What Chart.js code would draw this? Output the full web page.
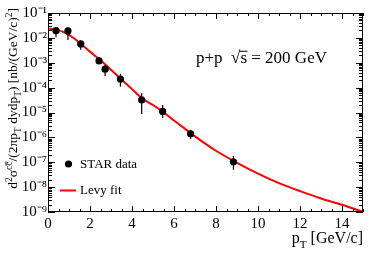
<!DOCTYPE html>
<html><head><meta charset="utf-8">
<script src="https://cdn.jsdelivr.net/npm/chart.js@4/dist/chart.umd.min.js"></script>
<style>html,body{margin:0;padding:0;background:#fff;}#wrap{width:374px;height:253px;}</style>
</head><body><div id="wrap"><canvas id="c" width="374" height="253"></canvas></div>
<script>
// ---- data ----
const ptValues   = [0.38, 0.95, 1.56, 2.43, 2.72, 3.45, 4.46, 5.46, 6.79, 8.83];
const starValues = [0.0195, 0.0190, 5.7e-3, 1.18e-3, 5.5e-4, 2.2e-4, 3.2e-5, 1.1e-5, 1.4e-6, 1.04e-7];
const starLow    = [0.0106, 0.0082, 3.3e-3, 8.9e-4, 2.95e-4, 1.1e-4, 8.7e-6, 6.0e-6, 8.7e-7, 5.0e-8];
const starHigh   = [0.0267, 0.0260, 7.7e-3, 1.7e-3, 8.1e-4, 3.55e-4, 6.0e-5, 2.0e-5, 2.0e-6, 1.8e-7];
const fitPt      = [0, 0.25, 0.5, 0.75, 1.0, 1.25, 1.5, 1.75, 2.0, 2.5, 3.0, 3.5, 4.0, 4.5, 5.0, 5.5, 6.0, 6.5, 7.0, 8.0, 9.0, 10.0, 11.0, 12.0, 13.0, 14.0, 15.0];
const fitValues  = [0.0240, 0.0222, 0.0200, 0.0170, 0.0132, 9.4e-3, 6.4e-3, 4.2e-3, 2.8e-3, 1.25e-3, 5.2e-4, 2.1e-4, 8.7e-5, 3.6e-5, 2.0e-5, 1.02e-5, 4.8e-6, 2.3e-6, 1.1e-6, 2.9e-7, 9.5e-8, 3.5e-8, 1.45e-8, 6.9e-9, 3.5e-9, 1.95e-9, 1.0e-9];
const xTickValues = [0, 2, 4, 6, 8, 10, 12, 14];
const yTickExponents = [-9, -8, -7, -6, -5, -4, -3, -2, -1];
const seriesNames = ['STAR data', 'Levy fit'];

const FONT = '"Liberation Serif", "Times New Roman", serif';
const SUP = {'-':'⁻','0':'⁰','1':'¹','2':'²','3':'³','4':'⁴','5':'⁵','6':'⁶','7':'⁷','8':'⁸','9':'⁹'};
function supStr(n){ return String(n).split('').map(c=>SUP[c]).join(''); }

function drawRich(ctx, segs, x, y, size){
  for (const s of segs){
    const sc = s.s || 1, dy = s.dy || 0;
    ctx.font = (size*sc) + 'px ' + FONT;
    ctx.fillText(s.t, x, y + dy*size);
    const w = ctx.measureText(s.t).width;
    if (s.bar){ ctx.save(); ctx.lineWidth=1; ctx.beginPath();
      const cw = ctx.measureText('c').width;
      ctx.moveTo(x + w - cw, y + dy*size - size*sc*0.62); ctx.lineTo(x + w, y + dy*size - size*sc*0.62); ctx.stroke(); ctx.restore(); }
    x += w;
  }
  return x;
}
function richWidth(ctx, segs, size){
  let w = 0;
  for (const s of segs){ ctx.font = (size*(s.s||1)) + 'px ' + FONT; w += ctx.measureText(s.t).width; }
  return w;
}

const errorBars = {
  id: 'errorBars',
  afterDatasetsDraw(chart){
    const {ctx, scales:{x, y}} = chart;
    ctx.save(); ctx.strokeStyle = '#000'; ctx.lineWidth = 1.2;
    ptValues.forEach((p,i)=>{
      const px = x.getPixelForValue(p);
      ctx.beginPath(); ctx.moveTo(px, y.getPixelForValue(starLow[i])); ctx.lineTo(px, y.getPixelForValue(starHigh[i])); ctx.stroke();
    });
    ctx.restore();
  }
};

const frameTicks = {
  id: 'frameTicks',
  afterDraw(chart){
    const {ctx, chartArea:a, scales:{x, y}} = chart;
    ctx.save(); ctx.strokeStyle = '#000'; ctx.lineWidth = 1;
    ctx.strokeRect(a.left+0.5, a.top+0.5, a.right-a.left-1, a.bottom-a.top-1);
    ctx.beginPath();
    for (let v=0; v<=15.001; v+=0.5){
      const px = Math.round(x.getPixelForValue(v))+0.5;
      const L = (Math.abs(v/2 - Math.round(v/2))<1e-6) ? 6 : 3;
      ctx.moveTo(px, a.bottom); ctx.lineTo(px, a.bottom-L);
      ctx.moveTo(px, a.top); ctx.lineTo(px, a.top+L);
    }
    for (let e=-9; e<=-1; e++){
      for (let m=1; m<=9; m++){
        const v = m*Math.pow(10,e);
        if (v>0.1000001) break;
        const py = Math.round(y.getPixelForValue(v))+0.5;
        const L = m===1 ? 7 : 4;
        ctx.moveTo(a.left, py); ctx.lineTo(a.left+L, py);
        ctx.moveTo(a.right, py); ctx.lineTo(a.right-L, py);
      }
    }
    ctx.stroke();
    ctx.restore();

    // texts
    ctx.save(); ctx.fillStyle = '#000'; ctx.strokeStyle='#000'; ctx.textBaseline = 'alphabetic';
    // x title
    const xt = [{t:'p'},{t:'T',s:0.7,dy:0.3},{t:' [GeV/c]'}];
    const xs = 16;
    drawRich(ctx, xt, a.right - richWidth(ctx, xt, xs), 243, xs);
    // y title
    const yt = [{t:'d'},{t:'2',s:0.7,dy:-0.38},{t:'σ'},{t:'cc',s:0.7,dy:-0.38,bar:true},{t:'/(2πp'},{t:'T',s:0.7,dy:0.3},{t:' dydp'},{t:'T',s:0.7,dy:0.3},{t:') [nb/(GeV/c)'},{t:'2',s:0.7,dy:-0.38},{t:']'}];
    const ys = 13.5;
    const yw = richWidth(ctx, yt, ys);
    ctx.save(); ctx.translate(17, a.top - 5); ctx.rotate(-Math.PI/2);
    drawRich(ctx, yt, -yw, 0, ys);
    ctx.restore();
    // annotation
    const an = 17;
    ctx.font = an + 'px ' + FONT;
    let ax = 196, ay = 63;
    ctx.fillText('p+p  ', ax, ay); ax += ctx.measureText('p+p  ').width;
    ctx.fillText('√', ax, ay); const rw = ctx.measureText('√').width; ax += rw;
    const sw = ctx.measureText('s').width;
    ctx.fillText('s', ax, ay);
    ctx.lineWidth = 1; ctx.beginPath(); ctx.moveTo(ax-1, ay - an*0.72+0.5); ctx.lineTo(ax+sw+0.5, ay - an*0.72+0.5); ctx.stroke();
    ax += sw;
    ctx.fillText(' = 200 GeV', ax, ay);
    // legend
    ctx.font = '13px ' + FONT; ctx.textBaseline = 'middle';
    ctx.beginPath(); ctx.arc(68.5, 164, 3.6, 0, Math.PI*2); ctx.fill();
    ctx.fillText(seriesNames[0], 80, 164.5);
    ctx.strokeStyle = '#ff0000'; ctx.lineWidth = 2; ctx.beginPath(); ctx.moveTo(60, 190.5); ctx.lineTo(76, 190.5); ctx.stroke();
    ctx.fillText(seriesNames[1], 80, 190.5);
    ctx.restore();
  }
};

new Chart(document.getElementById('c'), {
  type: 'scatter',
  data: {
    datasets: [
      { label: seriesNames[1], type: 'line', data: fitPt.map((p,i)=>({x:p, y:fitValues[i]})),
        borderColor: '#ff0000', borderWidth: 2, pointRadius: 0, fill: false, cubicInterpolationMode: 'monotone', order: 2 },
      { label: seriesNames[0], data: ptValues.map((p,i)=>({x:p, y:starValues[i]})),
        pointRadius: 3.6, pointBackgroundColor: '#000', pointBorderColor: '#000', pointBorderWidth: 0, order: 1 }
    ]
  },
  options: {
    responsive: false, animation: false, devicePixelRatio: 1,
    layout: { padding: { top: 13, right: 11, left: 0, bottom: 0 } },
    plugins: { legend: { display: false }, tooltip: { enabled: false } },
    scales: {
      x: { type: 'linear', min: 0, max: 15,
        grid: { display: false, drawTicks: false }, border: { display: false },
        ticks: { color: '#000', font: { family: FONT, size: 15 }, padding: 3, maxRotation: 0 },
        afterBuildTicks: s => { s.ticks = xTickValues.map(v=>({value:v})); },
        afterFit: s => { s.height = 41; } },
      y: { type: 'logarithmic', min: 1e-9, max: 1e-1,
        grid: { display: false, drawTicks: false }, border: { display: false },
        ticks: { color: '#000', font: { family: FONT, size: 15 }, padding: 1,
          callback: v => '10' + supStr(Math.round(Math.log10(v))) },
        afterBuildTicks: s => { s.ticks = yTickExponents.map(e=>({value:Math.pow(10,e)})); },
        afterFit: s => { s.width = 48; } }
    }
  },
  plugins: [errorBars, frameTicks]
});
</script></body></html>
